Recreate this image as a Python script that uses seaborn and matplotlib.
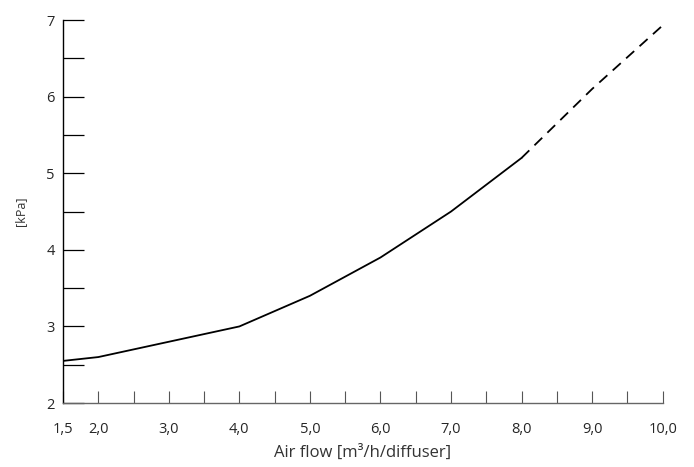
import numpy as np
import pandas as pd
import seaborn as sns
import matplotlib.pyplot as plt
from matplotlib.ticker import MultipleLocator, FixedLocator

# Pressure curve
flow = [1.5, 2.0, 3.0, 4.0, 5.0, 6.0, 7.0, 8.0, 9.0, 10.0]
pressure = [2.55, 2.6, 2.8, 3.0, 3.4, 3.9, 4.5, 5.2, 6.1, 6.93]
measured_until = 8.0  # beyond this point the curve is dashed

x_ticks = [1.5, 2, 3, 4, 5, 6, 7, 8, 9, 10]
x_tick_labels = ['1,5', '2,0', '3,0', '4,0', '5,0', '6,0', '7,0', '8,0', '9,0', '10,0']
y_ticks = [2, 3, 4, 5, 6, 7]

df = pd.DataFrame({'flow': flow, 'pressure': pressure})
solid = df[df['flow'] <= measured_until]
dashed = df[df['flow'] >= measured_until]

sns.set_style('ticks')
plt.rcParams['font.family'] = ['Open Sans', 'DejaVu Sans']

fig = plt.figure(figsize=(6.94, 4.67), dpi=100)
ax = fig.add_axes([0.0908, 0.137, 0.864, 0.82])

sns.lineplot(data=solid, x='flow', y='pressure', color='black', lw=1.3, ax=ax)
sns.lineplot(data=dashed, x='flow', y='pressure', color='black', lw=1.3,
             ax=ax, linestyle=(0, (6, 4)))

ax.set_xlim(1.5, 10)
ax.set_ylim(2, 7)

ax.xaxis.set_major_locator(FixedLocator(x_ticks))
ax.set_xticklabels(x_tick_labels)
ax.xaxis.set_minor_locator(MultipleLocator(0.5))
ax.set_yticks(y_ticks)
ax.yaxis.set_minor_locator(MultipleLocator(0.5))

ax.tick_params(axis='x', which='both', direction='in', length=9, width=0.8,
               color='#555555', labelsize=10.5, pad=14)
ax.tick_params(axis='y', which='both', direction='in', length=15, width=0.9,
               color='black', labelsize=10.5, pad=6)

sns.despine(ax=ax)
ax.spines['left'].set_color('black')
ax.spines['left'].set_linewidth(1.0)
ax.spines['bottom'].set_color('#666666')
ax.spines['bottom'].set_linewidth(1.0)

ax.set_xlabel('Air flow [m³/h/diffuser]', fontsize=12, color='#333333', labelpad=5)
ax.set_ylabel('[kPa]', fontsize=9, color='#333333', labelpad=14)

plt.savefig('out.png', dpi=100)
